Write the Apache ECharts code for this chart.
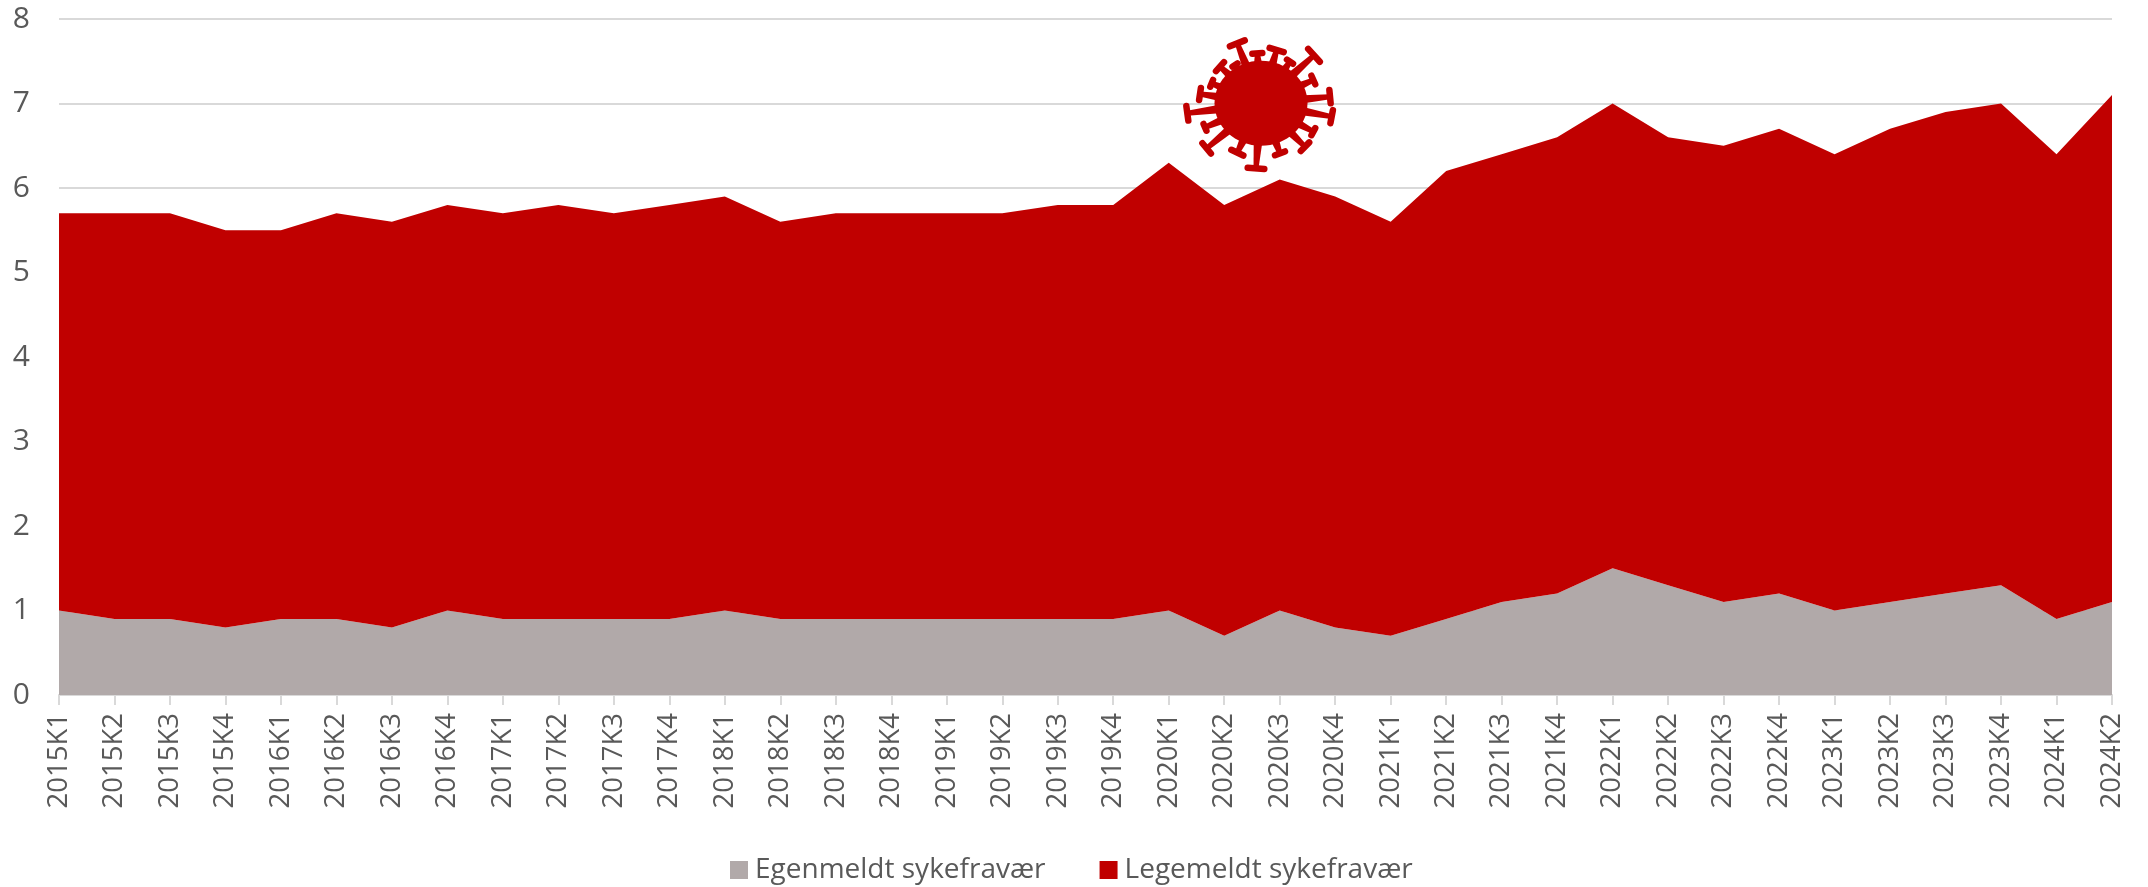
<!DOCTYPE html>
<html><head><meta charset="utf-8">
<style>html,body{margin:0;padding:0;background:#fff}#c{width:2148px;height:887px}</style>
<script src="https://cdn.jsdelivr.net/npm/echarts@6/dist/echarts.min.js"></script>
</head><body><div id="c"></div>
<script>
const categories = ['2015K1','2015K2','2015K3','2015K4','2016K1','2016K2','2016K3','2016K4','2017K1','2017K2','2017K3','2017K4','2018K1','2018K2','2018K3','2018K4','2019K1','2019K2','2019K3','2019K4','2020K1','2020K2','2020K3','2020K4','2021K1','2021K2','2021K3','2021K4','2022K1','2022K2','2022K3','2022K4','2023K1','2023K2','2023K3','2023K4','2024K1','2024K2'];
const egenmeldt = [1.0,0.9,0.9,0.8,0.9,0.9,0.8,1.0,0.9,0.9,0.9,0.9,1.0,0.9,0.9,0.9,0.9,0.9,0.9,0.9,1.0,0.7,1.0,0.8,0.7,0.9,1.1,1.2,1.5,1.3,1.1,1.2,1.0,1.1,1.2,1.3,0.9,1.1];
const legemeldt = [4.7,4.8,4.8,4.7,4.6,4.8,4.8,4.8,4.8,4.9,4.8,4.9,4.9,4.7,4.8,4.8,4.8,4.8,4.9,4.9,5.3,5.1,5.1,5.1,4.9,5.3,5.3,5.4,5.5,5.3,5.4,5.5,5.4,5.6,5.7,5.7,5.5,6.0];
const seriesNames = ['Egenmeldt sykefravær','Legemeldt sykefravær'];
const RED='#c00000', GREY='#b1a9a9', TXT='#595959', LINE='#d9d9d9';

// Coronavirus decoration: [tipX, tipY, capHalfLength] in a local 3x sketch space
const spikes = [[262,70,24],[322,100,15],[380,90,22],[420,125,11],[492,106,26],[490,180,14],[540,230,20],[545,290,20],[490,335,12],[465,380,18],[390,400,16],[318,445,25],[262,398,20],[170,385,20],[165,322,11],[112,280,22],[150,222,18],[185,190,11],[210,140,18],[255,135,9]];
const vc=[333,250], ox=1150, oy=20;
const cx=ox+vc[0]/3, cy=oy+vc[1]/3;
const virus=[{type:'ellipse',z:30,shape:{cx,cy,rx:46.5,ry:42.5},style:{fill:RED}}];
spikes.forEach(([x,y,h])=>{
  const dx=x-vc[0],dy=y-vc[1],l=Math.hypot(dx,dy),nx=-dy/l,ny=dx/l;
  const tx=ox+x/3,ty=oy+y/3, bx=cx+dx/l*36, by=cy+dy/l*36;
  virus.push({type:'polygon',z:30,shape:{points:[[bx-nx*4.5,by-ny*4.5],[bx+nx*4.5,by+ny*4.5],[tx+nx*2.5,ty+ny*2.5],[tx-nx*2.5,ty-ny*2.5]]},style:{fill:RED}});
  virus.push({type:'line',z:30,shape:{x1:ox+(x-nx*h)/3,y1:oy+(y-ny*h)/3,x2:ox+(x+nx*h)/3,y2:oy+(y+ny*h)/3},style:{stroke:RED,lineWidth:6.5,lineCap:'round'}});
});

const chart=echarts.init(document.getElementById('c'),null,{renderer:'canvas'});
const mk=(name,data,color)=>({name,type:'line',stack:'t',data,symbol:'none',silent:true,
  lineStyle:{width:0},itemStyle:{color},areaStyle:{color,opacity:1},z:2});
chart.setOption({
  animation:false,
  backgroundColor:'#fff',
  grid:{left:59,right:36,top:19,bottom:192,containLabel:false},
  legend:{left:725,top:851,itemWidth:18,itemHeight:18,itemGap:54,icon:'rect',
    data:seriesNames,
    textStyle:{color:TXT,fontSize:28,fontFamily:'Open Sans',padding:[0,0,0,2]}},
  xAxis:{type:'category',boundaryGap:false,data:categories,
    axisLine:{lineStyle:{color:LINE,width:2}},
    axisTick:{show:true,length:10,alignWithLabel:true,lineStyle:{color:LINE,width:2}},
    axisLabel:{rotate:90,interval:0,color:TXT,fontSize:27.5,fontFamily:'Open Sans',margin:18,padding:[0,0,6,0]}},
  yAxis:{type:'value',min:0,max:8,interval:1,
    axisLine:{show:false},axisTick:{show:false},
    splitLine:{lineStyle:{color:LINE,width:2}},
    axisLabel:{color:TXT,fontSize:30,fontFamily:'Open Sans',margin:29}},
  series:[mk(seriesNames[0],egenmeldt,GREY),mk(seriesNames[1],legemeldt,RED)],
  graphic:{elements:[{type:'group',children:virus}]}
});
</script></body></html>
